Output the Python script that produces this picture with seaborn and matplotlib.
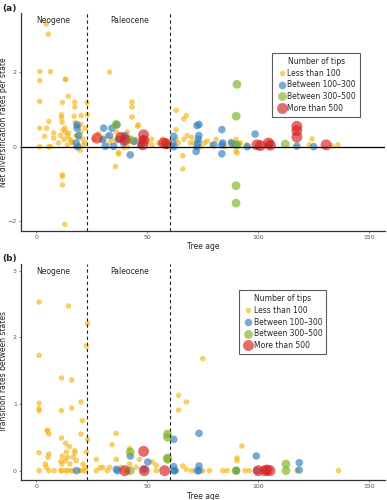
import numpy as np
import pandas as pd
import matplotlib
matplotlib.use('Agg')
import matplotlib.pyplot as plt
from matplotlib.lines import Line2D
import seaborn as sns

TIPS = ['Less than 100', 'Between 100\u2013300', 'Between 300\u2013500', 'More than 500']
COLORS = ['#F5B414', '#2F7FC1', '#7FB020', '#D81E1E']
SIZES = [16, 30, 40, 62]

# panel (a): net diversification rates per state
a_yellow = [(4.4,3.3),(5.3,3.03),(1.5,2.02),(6.3,2.02),(1.5,1.78),(13.2,1.81),(13.0,1.81),(33,2.01),
            (1.5,1.22),(14.4,1.36),(11.7,1.19),(17.3,1.2),(17.3,1.07),(22.8,1.18),(43.1,1.2),(43.1,1.07),
            (43.1,0.8),(11.3,0.86),(11.3,0.78),(17,0.82),(20.1,0.84),(23,0.86),(5.6,0.68),(11.6,0.66),
            (1.5,0.5),(4.6,0.5),(12.9,0.5),(7.8,0.37),(10.8,0.3),(14.5,0.37),(3.7,0.28),(7.8,0.23),
            (1.5,0),(5.6,0),(6.3,0),(19.8,-0.1),(11.7,-0.76),(11.7,-0.8),(11.7,-1.03),(12.8,-2.09),
            (12,0.45),(13,0.4),(14,0.3),(15,0.2),(16,0.15),(18,0.3),(19,0.25),(20,0.4),(21,0.2),(22,0.1),
            (18.5,0.55),(20,0.6),(22,0.5),(14,0.05),(16,0.1),(19,0.0),(21,0.05),(10,0.1),(12.5,0.2),(17.5,0.65),
            (46,0.59),(45.5,0.55),(35.6,-0.53),(37,-0.15),(37,-0.2),(39.4,-0.02),(35.6,0.59),(33,0.1),
            (34,0.2),(36,0.15),(38,0.3),(39,0.25),(41,0.0),(44,0.1),(45,0.2),(47,0.05),(50,0.15),(52,0.2),
            (52,0.05),(26,0.2),(28,0.35),(30,0.15),(32,0.3),(55,0.1),(57,0.2),(41,0.4),(36,0.4),
            (63,0.98),(66.4,0.75),(67.6,0.84),(63,0.46),(66,-0.24),(66,-0.6),(90,-0.13),(90.4,-0.16),
            (66.5,0.2),(69.4,0.1),(71,0.1),(75.8,0.1),(77,0.15),(81,0.2),(79,0.05),(87.4,0.14),(88,0.05),
            (90,0.2),(92,0.1),(94.9,0.05),(124.2,0.21),(133.2,0.03),(135.9,0.05),(117,0.0),(123,0.05),
            (85,0.0),(68,0.3),(63,0.2),(64,0.1),(70,0.25),(74,0.0)]
a_blue = [(18.3,0.59),(18.3,0.5),(19,0.3),(18,0.1),(18.5,0.0),(30.3,0.5),(34,0.5),(36.3,0.59),(31,0.01),
          (34.8,0.01),(42.3,-0.22),(39.3,0.1),(30,0.2),(33,0.3),(37,0.2),(40,0.3),(44,0.15),(48,0.2),
          (47,0.05),(61.9,0.28),(61.5,0.1),(62,0.0),(72.4,0.57),(73.3,0.6),(72,-0.13),(72.5,0.0),
          (72.8,0.1),(73,0.2),(73.2,0.3),(83.6,0.46),(83.6,0.05),(83.6,-0.19),(84,0.1),(98.6,0.34),
          (90,0.05),(95,0.0),(88,0.1),(117.4,0.02),(125,0.0),(105,0.05),(80,0.05)]
a_green = [(90.4,1.68),(90.1,0.82),(90,-1.05),(90,-1.52),(42.3,0.19),(36,0.6),(112.2,0.07),(90.5,0.05),(59,0.05)]
a_red = [(27.3,0.23),(40,0.19),(48.3,0.32),(48.4,0.17),(57.3,0.1),(58.5,0.08),(99.4,0.05),(101,0.03),
         (104.6,0.1),(105.5,0.04),(117.4,0.55),(117.4,0.43),(117.4,0.26),(130.6,0.05),(38,0.25),(48,0.05)]

# panel (b): transition rates between states
b_yellow = [(1.2,2.53),(14.5,2.47),(23.1,2.21),(22.5,1.87),(1.2,1.73),(11.3,1.39),(15.9,1.36),(1.2,1.01),
            (1.2,0.93),(1.2,0.9),(11.3,0.9),(15.9,0.94),(20.1,1.03),(20.7,0.75),(23.1,0.47),(4.8,0.6),
            (5.1,0.6),(5.6,0.55),(20.1,0.55),(11.3,0.49),(13.2,0.41),(14.9,0.36),(17.3,0.3),(17.3,0.26),
            (1.2,0.27),(5.6,0.25),(5.2,0.2),(11.6,0.22),(13.5,0.28),(14,0.2),(16.5,0.2),(22.5,0.28),
            (4,0.1),(4.5,0.05),(11,0.14),(11.5,0.1),(13,0.15),(15,0.1),(18,0.15),(21,0.1),(22,0.05),
            (1.2,0),(5.6,0),(11,0),(11.5,0),(13.3,0),(14,0),(15.5,0),(16.5,0),(19.5,0),(20.5,0),(22,0),(8,0),
            (27,0.17),(28.7,0.04),(27,0),(30,0.05),(32,0),(33,0.05),(36,0.56),(34.1,0.39),(36,0.17),
            (38,0.05),(42,0.33),(42,0.1),(46.4,0.17),(52.3,0.13),(54,0.08),(54,0),(45,0.05),(40,0.0),
            (64.1,1.13),(67.6,1.03),(64.1,0.91),(75,1.68),(92.6,0.37),(90.4,0.19),(90.4,0.15),(66,0.07),
            (67.6,0.02),(70,0.0),(75,0.0),(78,0.0),(84,0.0),(86,0.0),(90,0.0),(94,0.0),(96,0.0),
            (117.4,0),(136.2,0),(63,0.0)]
b_blue = [(18.1,0),(36.6,0),(42.3,0.22),(50.2,0.13),(61.9,0.47),(73.3,0.56),(61.9,0.06),(61.9,0),
          (73.3,0.07),(73.3,0),(72.5,0.0),(90.1,0),(99.1,0.22),(99.4,0),(118.5,0.12),(118.5,0.01),
          (48.5,0.02),(36,0.02),(62.5,0.0)]
b_green = [(42.3,0.28),(42.3,0),(59.1,0.55),(59.1,0.5),(59.1,0.19),(59.1,0.17),(112.5,0.1),(112.5,0),(90,0.0)]
b_red = [(48.3,0.29),(39.8,0),(48.6,0),(57.8,0),(100,0),(103,0),(105.3,0),(104,0.01)]


def make_df(groups):
    rows = []
    for tip, pts in zip(TIPS, groups):
        for x, y in pts:
            rows.append((x, y, tip))
    return pd.DataFrame(rows, columns=['age', 'rate', 'tips'])


df_a = make_df([a_yellow, a_blue, a_green, a_red])
df_b = make_df([b_yellow, b_blue, b_green, b_red])

sns.set_style('ticks')
plt.rcParams['font.family'] = ['DejaVu Sans']

fig = plt.figure(figsize=(3.87, 5.0), dpi=100)
ax_a = fig.add_axes([0.054, 0.538, 0.94, 0.436])
ax_b = fig.add_axes([0.054, 0.04, 0.94, 0.432])

palette = dict(zip(TIPS, COLORS))
sizes = dict(zip(TIPS, SIZES))

for ax, df, ylab, ylim, yticks, leg_anchor, tag, xl_y in [
        (ax_a, df_a, 'Net diversification rates per state', (-2.27, 3.6), [-2, 0, 2], (0.681, 0.835), '(a)', -0.05),
        (ax_b, df_b, 'Transition rates between states', (-0.14, 3.1), [0, 1, 2, 3], (0.588, 0.897), '(b)', -0.055)]:
    sns.scatterplot(data=df, x='age', y='rate', hue='tips', size='tips', palette=palette,
                    sizes=sizes, hue_order=TIPS, size_order=TIPS, alpha=0.65,
                    edgecolor='none', linewidth=0, legend=False, ax=ax)
    if tag == '(a)':
        ax.axhline(0, color='black', lw=0.9, zorder=1)
    for v in [23, 60]:
        ax.axvline(v, color='#222222', lw=0.8, ls=(0, (3, 2.5)), zorder=1)
    ax.set_xlim(-7, 157)
    ax.set_ylim(*ylim)
    ax.set_xticks([0, 50, 100, 150])
    ax.set_yticks(yticks)
    ax.set_xlabel('Tree age', fontsize=5.5)
    ax.set_ylabel(ylab, fontsize=5.5)
    ax.xaxis.set_label_coords(0.5, xl_y)
    ax.yaxis.set_label_coords(-0.035, 0.5)
    ax.tick_params(labelsize=4.5, colors='#555555', length=1.5, width=0.5, pad=1.5)
    for s in ['left', 'bottom']:
        ax.spines[s].set_color('#333333')
        ax.spines[s].set_linewidth(0.9)
    sns.despine(ax=ax)
    ax.text(7.5, ylim[1] - 0.015 * (ylim[1] - ylim[0]), 'Neogene', ha='center', va='top', fontsize=5.5)
    ax.text(42, ylim[1] - 0.015 * (ylim[1] - ylim[0]), 'Paleocene', ha='center', va='top', fontsize=5.5)
    handles = [Line2D([], [], marker='o', ls='', color=c, alpha=0.65, markeredgewidth=0,
                      markersize=np.sqrt(s) * 1.0) for c, s in zip(COLORS, SIZES)]
    leg = ax.legend(handles, TIPS, title='Number of tips', loc='upper left', bbox_to_anchor=leg_anchor,
                    fontsize=5.5, title_fontsize=5.5, frameon=True, fancybox=False,
                    handletextpad=0.1, labelspacing=0.35, borderpad=0.55, handlelength=1.3)
    leg.get_frame().set_edgecolor('#333333')
    leg.get_frame().set_linewidth(0.8)
    fig.text(0.005, ax.get_position().y1 + 0.01, tag, fontsize=6.5, fontweight='bold', va='center')

fig.savefig('out.png', dpi=100)
